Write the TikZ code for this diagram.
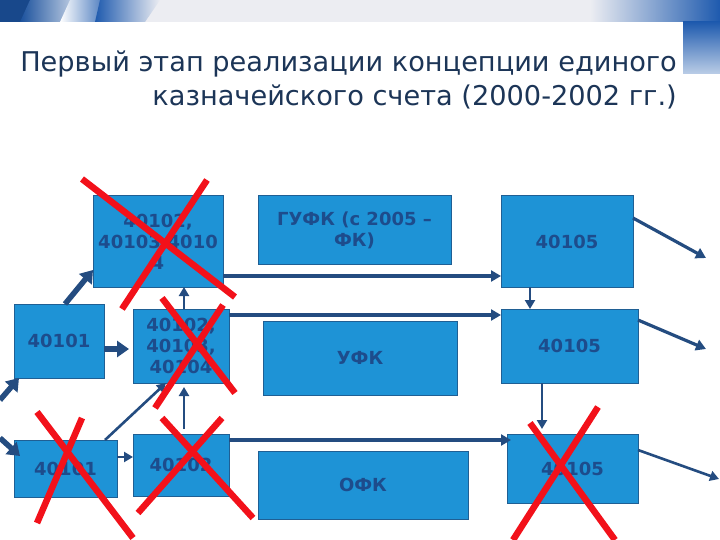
\documentclass[tikz,border=0pt]{standalone}
\usepackage{fontspec}
\setmainfont{DejaVu Sans}
\usetikzlibrary{arrows.meta,calc}
\definecolor{boxfill}{HTML}{1E93D6}
\definecolor{boxline}{HTML}{1F5F94}
\definecolor{boxtext}{HTML}{1D4C8C}
\definecolor{arr}{HTML}{244C80}
\definecolor{ttl}{HTML}{1C3557}
\definecolor{xred}{HTML}{F2111A}
\definecolor{band}{HTML}{ECEDF2}
\definecolor{hblue}{HTML}{1E5AAE}
\tikzset{
  blk/.style={draw=boxline, line width=1pt, fill=boxfill, inner sep=1pt, outer sep=0pt,
    align=center, font=\bfseries\fontsize{18}{21}\selectfont, text=boxtext},
  con/.style={draw=arr, line width=3.2pt, -{Triangle[length=10pt,width=11pt]}},
  thin/.style={draw=arr, line width=2.6pt, -{Triangle[length=9pt,width=10pt]}},
  fat/.style={draw=arr, line width=5.5pt, -{Triangle[length=12pt,width=16pt]}},
  cross/.style={draw=xred, line width=6.5pt}
}
\begin{document}
\begin{tikzpicture}[x=1pt,y=-1pt]
\useasboundingbox (0,0) rectangle (720,540);
\fill[white] (0,0) rectangle (720,540);
% header band
\fill[band] (0,0) rectangle (720,22);
\shade[left color=band, right color=hblue] (590,0) rectangle (720,22);
\shade[top color=hblue, bottom color=hblue!30] (683,22) rectangle (720,74);
\fill[hblue!80!black] (0,0) -- (60,0) -- (40,22) -- (0,22) -- cycle;
\shade[left color=hblue!90!black, right color=white] (30,0) -- (95,0) -- (80,22) -- (20,22) -- cycle;
\shade[left color=white, right color=hblue] (70,0) -- (115,0) -- (100,22) -- (60,22) -- cycle;
\shade[left color=hblue, right color=band] (100,0) -- (160,0) -- (145,22) -- (95,22) -- cycle;
% title
\node[anchor=base east, inner sep=0, text=ttl, font=\fontsize{27.2}{32}\selectfont] (t1) at (677,72) {Первый этап реализации концепции единого};
\node[anchor=base east, inner sep=0, text=ttl, font=\fontsize{27.2}{32}\selectfont] (t2) at (677,106) {казначейского счета (2000-2002 гг.)};
% boxes
\node[blk, minimum width=130, minimum height=91] (A) at (158,241.5) {40102,\\40103,4010\\4};
\node[blk, minimum width=193, minimum height=68] (G) at (354.5,230) {ГУФК (с 2005 –\\ФК)};
\node[blk, minimum width=132, minimum height=91] (T) at (567,241.5) {40105};
\node[blk, minimum width=90, minimum height=74] (L) at (59,341) {40101};
\node[blk, minimum width=96, minimum height=74] (M) at (181,346) {40102,\\40103,\\40104};
\node[blk, minimum width=194, minimum height=74] (U) at (360,358) {УФК};
\node[blk, minimum width=137, minimum height=74] (R) at (569.5,346) {40105};
\node[blk, minimum width=103, minimum height=57] (BL) at (65.5,468.5) {40101};
\node[blk, minimum width=96, minimum height=62] (BM) at (181,465) {40102};
\node[blk, minimum width=210, minimum height=68] (O) at (363,485) {ОФК};
\node[blk, minimum width=131, minimum height=69] (BR) at (572.5,468.5) {40105};
% free ends
\coordinate (o1) at (706,258);
\coordinate (o2) at (706,349);
\coordinate (o3) at (719,479);
\coordinate (i1) at (0,400);
\coordinate (i2) at (0,438);
% connectors
\draw[con] (A.east |- 0,276) -- (T.west |- 0,276);
\draw[con] (M.east |- 0,315) -- (R.west |- 0,315);
\draw[con] (BM.east |- 0,440) -- ($(BR.west |- 0,440)+(4,0)$);
\draw[thin] (T.south -| 530,0) -- (R.north -| 530,0);
\draw[thin, shorten >=5pt] (R.south -| 542,0) -- (BR.north -| 542,0);
\draw[con] (T.east |- 0,218) -- (o1);
\draw[con] (R.east |- 0,320) -- (o2);
\draw[thin] (BR.east |- 0,450) -- (o3);
\draw[thin] (M.north -| 184,0) -- (A.south -| 184,0);
\draw[thin, shorten <=5pt, shorten >=4pt] (BM.north -| 184,0) -- (M.south -| 184,0);
\draw[fat] (L.north -| 65,0) -- (A.west |- 0,270);
\draw[fat, shorten >=4pt] (L.east |- 0,349) -- (M.west |- 0,349);
\draw[fat] (i1) -- (L.south -| 19,0);
\draw[fat] (i2) -- ($(BL.west |- 0,456)+(6,0)$);
\draw[thin] (BL.north -| 105,0) -- (M.south -| 166,0);
\draw[thin] (BL.east |- 0,457) -- (BM.west |- 0,457);
% red crosses
\draw[cross] (82,179) -- (235,297);
\draw[cross] (207,180) -- (122,309);
\draw[cross] (162,298) -- (235,393);
\draw[cross] (223,305) -- (155,408);
\draw[cross] (37,412) -- (133,538);
\draw[cross] (82,418) -- (37,523);
\draw[cross] (162,418) -- (253,518);
\draw[cross] (222,418) -- (138,513);
\draw[cross] (530,423) -- (615,540);
\draw[cross] (598,407) -- (513,540);
\end{tikzpicture}
\end{document}
